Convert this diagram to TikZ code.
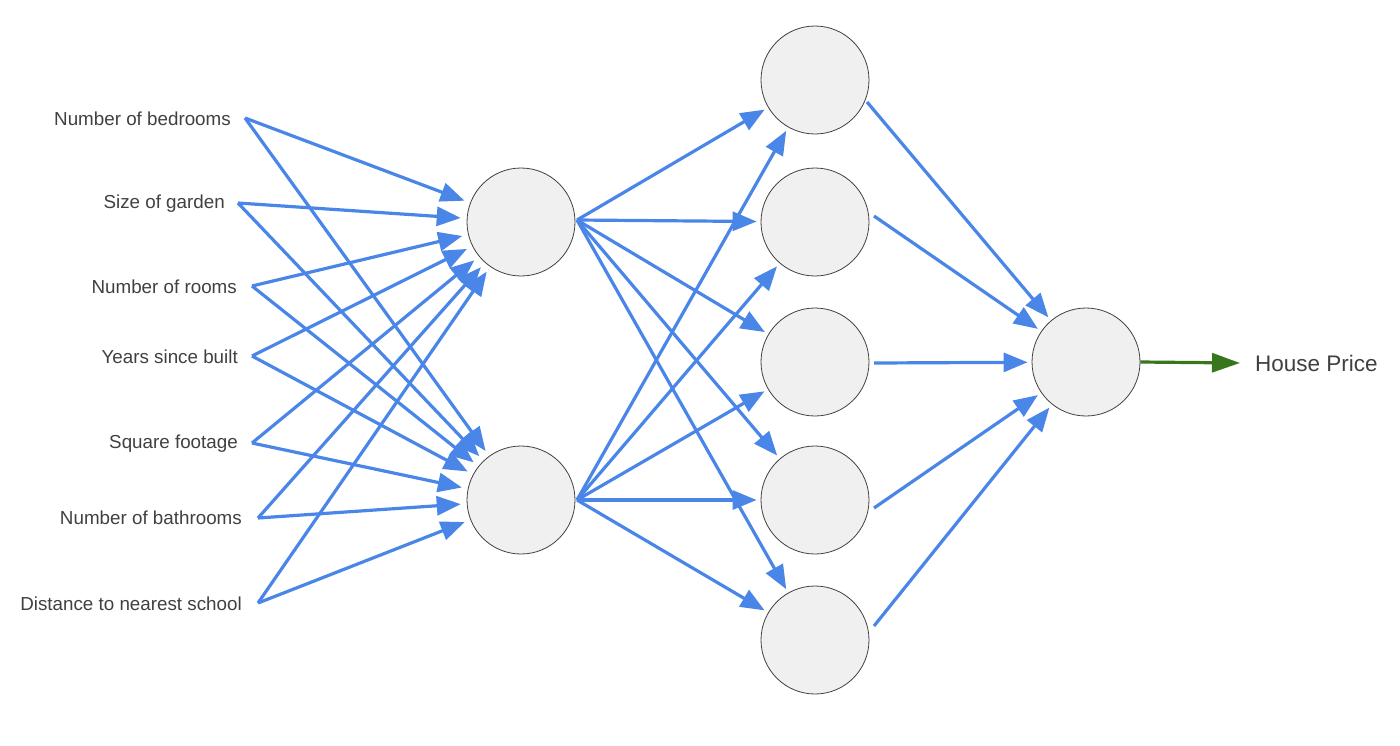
\documentclass[tikz,border=0pt]{standalone}
\usepackage{fontspec}
\setmainfont{Liberation Sans}
\usetikzlibrary{arrows.meta}
\begin{document}
\begin{tikzpicture}[x=1pt,y=-1pt,
  neuron/.style={circle,minimum size=108pt,inner sep=0,fill=black!6,draw=black!75,line width=0.8pt},
  lbl/.style={anchor=east,font=\fontsize{18.8}{22}\selectfont,text=black!75,inner sep=0},
  conn/.style={draw=arrowblue,line width=3.2pt,-{Triangle[length=24pt,width=19pt]},shorten >=2pt},
  ]
\definecolor{arrowblue}{HTML}{4A86E8}
\definecolor{outgreen}{HTML}{38761D}
\useasboundingbox (0,0) rectangle (1400,745);
% inputs
\node[lbl] (i1) at (231,119) {Number of bedrooms};
\node[lbl] (i2) at (225,204) {Size of garden};
\node[lbl] (i3) at (237,287) {Number of rooms};
\node[lbl] (i4) at (238,357) {Years since built};
\node[lbl] (i5) at (238,444) {Square footage};
\node[lbl] (i6) at (242,518) {Number of bathrooms};
\node[lbl] (i7) at (242,604) {Distance to nearest school};
\coordinate (s1) at (245,118);
\coordinate (s2) at (238,203);
\coordinate (s3) at (252,286);
\coordinate (s4) at (252,356);
\coordinate (s5) at (252,443);
\coordinate (s6) at (258,518);
\coordinate (s7) at (258,603);
% hidden
\node[neuron] (h1) at (521,222) {};
\node[neuron] (h2) at (521,500) {};
\node[neuron] (l1) at (815,80) {};
\node[neuron] (l2) at (815,222) {};
\node[neuron] (l3) at (815,362) {};
\node[neuron] (l4) at (815,500) {};
\node[neuron] (l5) at (815,640) {};
\node[neuron] (o) at (1086,362) {};
\node[anchor=west,inner sep=0,font=\fontsize{22.5}{26}\selectfont,text=black!75] (hp) at (1255,363) {House Price};
\foreach \s in {s1,s2,s3,s4,s5,s6,s7}{
  \draw[conn,shorten >=6pt] (\s) -- (h1);
  \draw[conn,shorten >=6pt] (\s) -- (h2);
}
\coordinate (e1) at (577,220);
\coordinate (e2) at (577,500);
\foreach \l in {l1,l2,l3,l4,l5}{
  \draw[conn,shorten >=4pt] (e1) -- (\l);
  \draw[conn,shorten >=4pt] (e2) -- (\l);
}
\coordinate (t1) at (867,102);
\coordinate (t2) at (874,216);
\coordinate (t3) at (874,363);
\coordinate (t4) at (874,508);
\coordinate (t5) at (874,626);
\foreach \t in {t1,t2,t3,t4,t5}{
  \draw[conn,shorten >=4pt] (\t) -- (o);
}
\coordinate (ge) at (1240,363);
\draw[draw=outgreen,line width=3.2pt,-{Triangle[length=28pt,width=19pt]}] (o.east) -- (ge);
\end{tikzpicture}
\end{document}
